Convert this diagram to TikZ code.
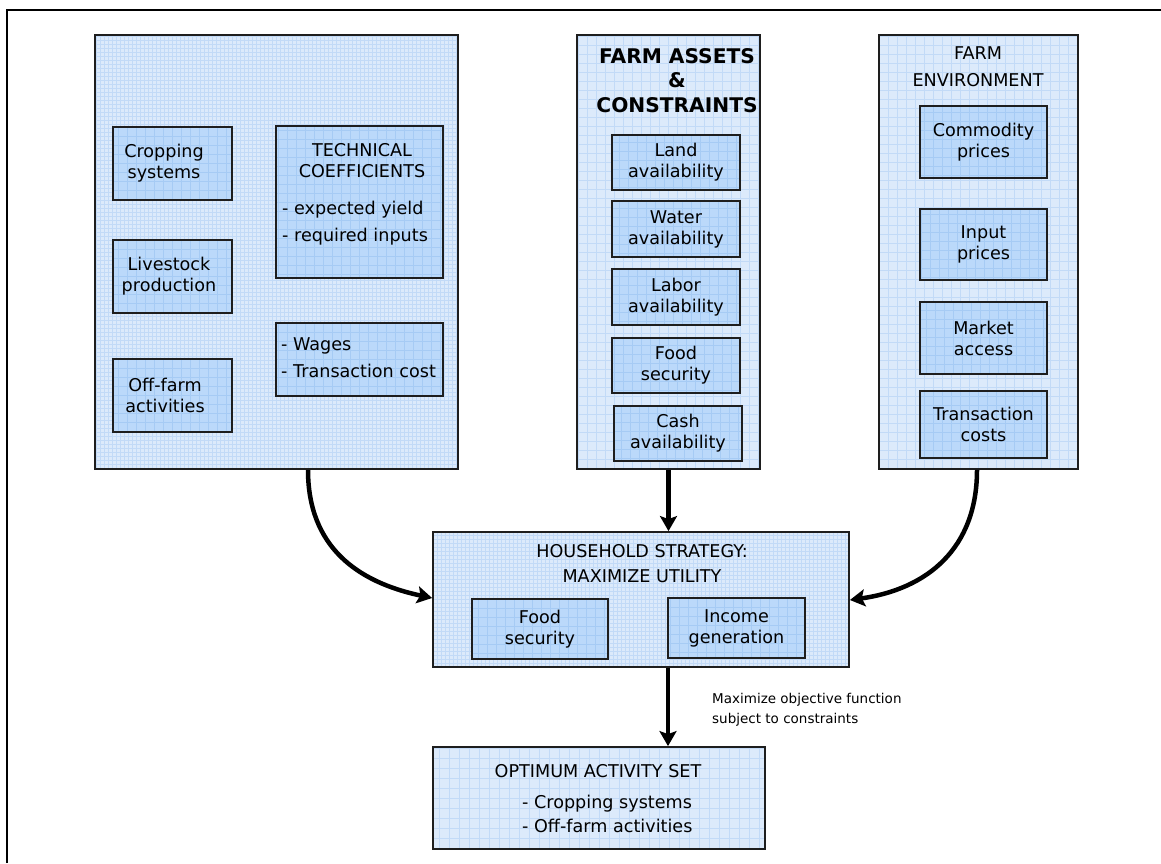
\documentclass[tikz,border=0pt]{standalone}
\usepackage{fontspec}
\setmainfont{DejaVu Sans}
\usetikzlibrary{arrows.meta}
\definecolor{outerfill}{HTML}{DCEAFB}
\definecolor{outergrid}{HTML}{C2DAF7}
\definecolor{innerfill}{HTML}{BBD9FA}
\definecolor{innergrid}{HTML}{A6CBF4}
\definecolor{edge}{HTML}{1E1E1E}
\newcommand{\gridfill}[2]{\draw[#1, line width=0.5pt, step=#2] (path picture bounding box.south west) grid (path picture bounding box.north east);}
\begin{document}
\begin{tikzpicture}[x=1pt,y=-1pt,
  txt/.style={font=\fontsize{17.6}{21}\selectfont, text=black, align=center, inner sep=0pt},
  ltxt/.style={font=\fontsize{17.6}{27}\selectfont, text=black, align=left, inner sep=0pt, anchor=west},
  bigbox/.style={draw=edge, line width=1.8pt, fill=outerfill, inner sep=0pt, path picture={\gridfill{outergrid}{#1}}},
  bigbox/.default=4pt,
  inbox/.style={draw=edge, line width=1.6pt, fill=innerfill, inner sep=0pt, font=\fontsize{17.6}{21}\selectfont, align=center, path picture={\gridfill{innergrid}{9pt}}},
  conn/.style={line width=4.5pt, draw=black, -{Stealth[length=15pt,width=17pt,inset=3pt]}},
  frame/.style={line width=1.5pt, draw=black}
]
\useasboundingbox (0,0) rectangle (1161,863);
\coordinate (f1) at (7,863);
\coordinate (f2) at (7,10);
\coordinate (f3) at (1161,10);
\draw[frame] (f1) -- (f2) -- (f3);

% left big box
\node[bigbox=4pt, minimum width=363pt, minimum height=434pt] (L) at (276.5,252) {};
\node[inbox, minimum width=119pt, minimum height=73pt] (crop) at (172.5,163.5) {};
\node[txt] (cropt) at (164,163.5) {Cropping\\systems};
\node[inbox, minimum width=119pt, minimum height=73pt] (live) at (172.5,276.5) {};
\node[txt] (livet) at (169,276.5) {Livestock\\production};
\node[inbox, minimum width=119pt, minimum height=73pt] (off) at (172.5,395.5) {};
\node[txt] (offt) at (165,395.5) {Off-farm\\activities};
\node[inbox, minimum width=167pt, minimum height=152pt] (tech) at (359.5,202) {};
\node[txt] (techt) at (362,161) {TECHNICAL\\COEFFICIENTS};
\node[ltxt] (techb) at (282,223) {- expected yield\\- required inputs};
\node[inbox, minimum width=167pt, minimum height=73pt] (wage) at (359.5,359.5) {};
\node[ltxt] (waget) at (281,357.5) {- Wages\\- Transaction cost};

% middle big box
\node[bigbox=9pt, minimum width=183pt, minimum height=434pt] (M) at (668.5,252) {};
\node[txt, font=\fontsize{20.2}{24.5}\selectfont\bfseries] (Mt) at (677,80.5) {FARM ASSETS\\\&\\CONSTRAINTS};
\node[inbox, minimum width=128pt, minimum height=55pt] (land) at (676,162.5) {Land\\availability};
\node[inbox, minimum width=128pt, minimum height=56pt] (water) at (676,229) {Water\\availability};
\node[inbox, minimum width=128pt, minimum height=56pt] (labor) at (676,297) {Labor\\availability};
\node[inbox, minimum width=128pt, minimum height=55pt] (food) at (676,365.5) {Food\\security};
\node[inbox, minimum width=128pt, minimum height=55pt] (cash) at (678,433.5) {Cash\\availability};

% right big box
\node[bigbox=9pt, minimum width=199pt, minimum height=434pt] (R) at (978.5,252) {};
\node[txt, font=\fontsize{17.6}{27}\selectfont] (Rt) at (978,67) {FARM\\ENVIRONMENT};
\node[inbox, minimum width=127pt, minimum height=72pt] (comm) at (983.5,142) {Commodity\\prices};
\node[inbox, minimum width=127pt, minimum height=71pt] (input) at (983.5,244.5) {Input\\prices};
\node[inbox, minimum width=127pt, minimum height=72pt] (market) at (983.5,338) {Market\\access};
\node[inbox, minimum width=127pt, minimum height=67pt] (trans) at (983.5,424.5) {Transaction\\costs};

% household
\node[bigbox=4pt, minimum width=416pt, minimum height=135pt] (hh) at (641,599.5) {};
\node[txt, font=\fontsize{17.6}{25}\selectfont] (hht) at (642,563.5) {HOUSEHOLD STRATEGY:\\MAXIMIZE UTILITY};
\node[inbox, minimum width=136pt, minimum height=60pt] (hfood) at (540,629) {Food\\security};
\node[inbox, minimum width=137pt, minimum height=60pt] (income) at (736.5,628) {Income\\generation};

% optimum
\node[bigbox=10pt, minimum width=332pt, minimum height=102pt] (opt) at (599,798) {};
\node[txt] (optt) at (598,771) {OPTIMUM ACTIVITY SET};
\node[ltxt, font=\fontsize{17.6}{24}\selectfont] (optb) at (522,813.5) {- Cropping systems\\- Off-farm activities};

% label
\node[txt, align=left, anchor=west, font=\fontsize{13.5}{20}\selectfont] (lab) at (712,709.5) {Maximize objective function\\subject to constraints};

% connectors
\draw[conn] ([xshift=31.5pt]L.south) to[out=-90,in=168,looseness=1.1] ([yshift=1.5pt]hh.west);
\draw[conn] (M.south) -- (M.south |- hh.north);
\draw[conn] ([xshift=-1.5pt]R.south) to[out=-90,in=8,looseness=1.1] ([yshift=-0.5pt]hh.east);
\draw[conn] ([xshift=27pt]hh.south) -- ([xshift=27pt]hh.south |- opt.north);
\end{tikzpicture}
\end{document}
